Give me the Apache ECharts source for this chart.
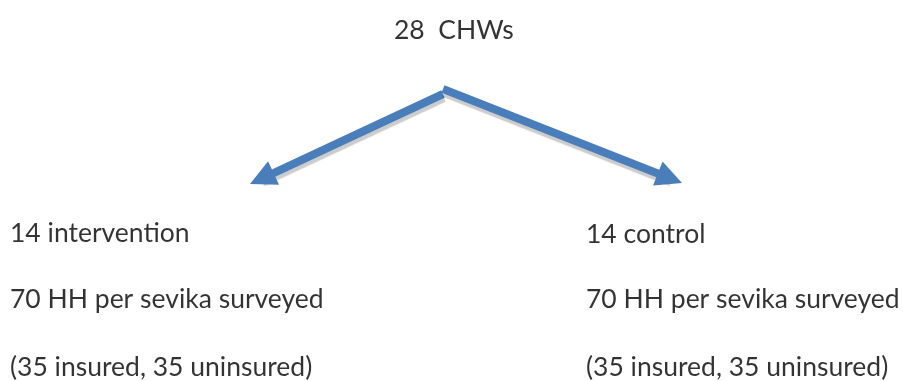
<!DOCTYPE html>
<html>
<head>
<meta charset="utf-8">
<script src="https://cdn.jsdelivr.net/npm/echarts@6/dist/echarts.min.js"></script>
<style>html,body{margin:0;padding:0;background:#fff;}#c{width:903px;height:381px;}</style>
</head>
<body>
<div id="c"></div>
<script>
// Diagram content
const topLabel = ['28  CHWs'];
const leftLabels = ['14 intervention', '70 HH per sevika surveyed', '(35 insured, 35 uninsured)'];
const rightLabels = ['14 control', '70 HH per sevika surveyed', '(35 insured, 35 uninsured)'];
// Arrows: start of shaft -> tip of head (canvas units)
const arrowStarts = [[443, 94], [443, 89]];
const arrowTips = [[250, 184], [682, 183]];

// Layout (text anchor positions in canvas units)
const topPos = [[394, 30]];
const leftPos = [[10, 233], [10, 299], [10, 367]];
const rightPos = [[586, 234], [586, 299], [586, 367]];

// Fit font size so the long line matches the reference width (~311px)
const FONT = 'Lato';
const ctx = document.createElement('canvas').getContext('2d');
ctx.font = '20px ' + FONT;
const fontSize = Math.round(20 * 311 / ctx.measureText('70 HH per sevika surveyed').width * 2) / 2;

const HEAD_LEN = 26, HEAD_W = 28;
const chart = echarts.init(document.getElementById('c'));
function textSeries(labels, pos) {
  return {
    type: 'scatter',
    symbolSize: 0,
    silent: true,
    data: labels.map((t, i) => ({ value: pos[i], name: t })),
    label: {
      show: true, position: 'right', distance: 0,
      formatter: p => p.name,
      color: '#000', fontFamily: FONT, fontSize: fontSize
    }
  };
}
// the triangle symbol is centred on the line end, so pull the end back by half the head length
const arrowData = arrowStarts.map((s, i) => {
  const t = arrowTips[i];
  const dx = t[0] - s[0], dy = t[1] - s[1];
  const L = Math.hypot(dx, dy);
  const e = [t[0] - dx / L * HEAD_LEN / 2, t[1] - dy / L * HEAD_LEN / 2];
  return { coords: [s, e] };
});
chart.setOption({
  animation: false,
  grid: { left: 0, right: 0, top: 0, bottom: 0 },
  xAxis: { type: 'value', min: 0, max: 903, show: false },
  yAxis: { type: 'value', min: 0, max: 381, inverse: true, show: false },
  series: [
    {
      type: 'lines',
      coordinateSystem: 'cartesian2d',
      silent: true,
      symbol: ['none', 'triangle'],
      symbolSize: [HEAD_W, HEAD_LEN],
      lineStyle: {
        color: '#4a7ebb', width: 8, opacity: 1,
        shadowColor: 'rgba(0,0,0,0.2)', shadowOffsetX: 1, shadowOffsetY: 4, shadowBlur: 1
      },
      itemStyle: { color: '#4a7ebb' },
      data: arrowData
    },
    textSeries(topLabel, topPos),
    textSeries(leftLabels, leftPos),
    textSeries(rightLabels, rightPos)
  ]
});
</script>
</body>
</html>
